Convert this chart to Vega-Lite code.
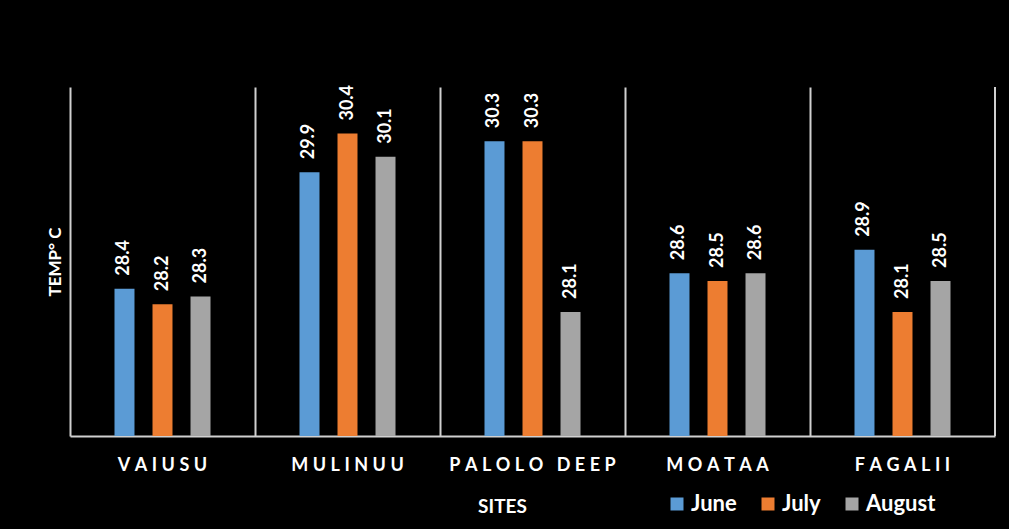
{
  "$schema": "https://vega.github.io/schema/vega-lite/v6.json",
  "autosize": {"type": "none"},
  "width": 925,
  "height": 349,
  "padding": {"left": 70, "top": 87, "right": 14, "bottom": 93},
  "background": "#000000",
  "config": {
    "view": {"stroke": null},
    "font": "Lato"
  },
  "data": {
    "values": [
      {"site": "VAIUSU", "month": "June", "temp": 28.4},
      {"site": "VAIUSU", "month": "July", "temp": 28.2},
      {"site": "VAIUSU", "month": "August", "temp": 28.3},
      {"site": "MULINUU", "month": "June", "temp": 29.9},
      {"site": "MULINUU", "month": "July", "temp": 30.4},
      {"site": "MULINUU", "month": "August", "temp": 30.1},
      {"site": "PALOLO DEEP", "month": "June", "temp": 30.3},
      {"site": "PALOLO DEEP", "month": "July", "temp": 30.3},
      {"site": "PALOLO DEEP", "month": "August", "temp": 28.1},
      {"site": "MOATAA", "month": "June", "temp": 28.6},
      {"site": "MOATAA", "month": "July", "temp": 28.5},
      {"site": "MOATAA", "month": "August", "temp": 28.6},
      {"site": "FAGALII", "month": "June", "temp": 28.9},
      {"site": "FAGALII", "month": "July", "temp": 28.1},
      {"site": "FAGALII", "month": "August", "temp": 28.5}
    ]
  },
  "encoding": {
    "x": {
      "field": "site",
      "type": "nominal",
      "sort": null,
      "scale": {"paddingInner": 0, "paddingOuter": 0},
      "axis": {
        "title": "SITES",
        "titleColor": "#ffffff",
        "titleFont": "Lato",
        "titleFontSize": 19,
        "titleFontWeight": "bold",
        "titleX": 432,
        "titleY": 76,
        "titleBaseline": "alphabetic",
        "titleAnchor": "middle",
        "labelAngle": 0,
        "labelColor": "#ffffff",
        "labelFont": "Lato",
        "labelFontSize": 18,
        "labelFontWeight": "bold",
        "labelBaseline": "alphabetic",
        "labelPadding": 34,
        "labelLimit": 0,
        "labelExpr": "join(split(datum.label, ''), '\u2005')",
        "ticks": false,
        "tickSize": 0,
        "domain": true,
        "domainColor": "#d0d0d0",
        "domainWidth": 2,
        "grid": true,
        "gridColor": "#d0d0d0",
        "gridWidth": 2,
        "bandPosition": 0
      }
    }
  },
  "layer": [
    {
      "mark": {"type": "bar", "clip": true},
      "encoding": {
        "xOffset": {
          "field": "month",
          "type": "nominal",
          "sort": ["June", "July", "August"],
          "scale": {"range": [44.5, 140.5], "paddingInner": 0.474, "paddingOuter": 0}
        },
        "y": {
          "field": "temp",
          "type": "quantitative",
          "scale": {"domain": [26.5, 31], "zero": false, "nice": false},
          "axis": {
            "title": "TEMP° C",
            "titleColor": "#ffffff",
            "titleFont": "Lato",
            "titleFontSize": 17,
            "titleFontWeight": "bold",
            "titleX": -15,
            "titleBaseline": "middle",
            "labels": false,
            "ticks": false,
            "domain": false,
            "grid": false
          }
        },
        "color": {
          "field": "month",
          "type": "nominal",
          "sort": ["June", "July", "August"],
          "scale": {
            "domain": ["June", "July", "August"],
            "range": ["#5B9BD5", "#ED7D31", "#A5A5A5"]
          },
          "legend": {
            "orient": "none",
            "legendX": 596,
            "legendY": 406,
            "direction": "horizontal",
            "title": null,
            "padding": 0,
            "symbolType": "square",
            "symbolSize": 169,
            "symbolStrokeWidth": 0,
            "labelFont": "Lato",
            "labelFontSize": 22,
            "labelFontWeight": "bold",
            "labelColor": "#ffffff",
            "labelOffset": 3,
            "columnPadding": 20
          }
        }
      }
    },
    {
      "mark": {
        "type": "text",
        "angle": 270,
        "align": "left",
        "baseline": "middle",
        "dx": 13,
        "font": "Lato",
        "fontSize": 18,
        "fontWeight": "bold",
        "color": "#ffffff"
      },
      "encoding": {
        "xOffset": {"field": "month", "type": "nominal", "sort": ["June", "July", "August"]},
        "y": {"field": "temp", "type": "quantitative"},
        "text": {"field": "temp", "type": "quantitative", "format": ".1f"}
      }
    },
    {
      "transform": [{"filter": "datum.site === 'FAGALII' && datum.month === 'June'"}],
      "mark": {"type": "rule", "color": "#d0d0d0", "strokeWidth": 2},
      "encoding": {
        "x": {"field": "site", "type": "nominal", "bandPosition": 1}
      }
    }
  ]
}
